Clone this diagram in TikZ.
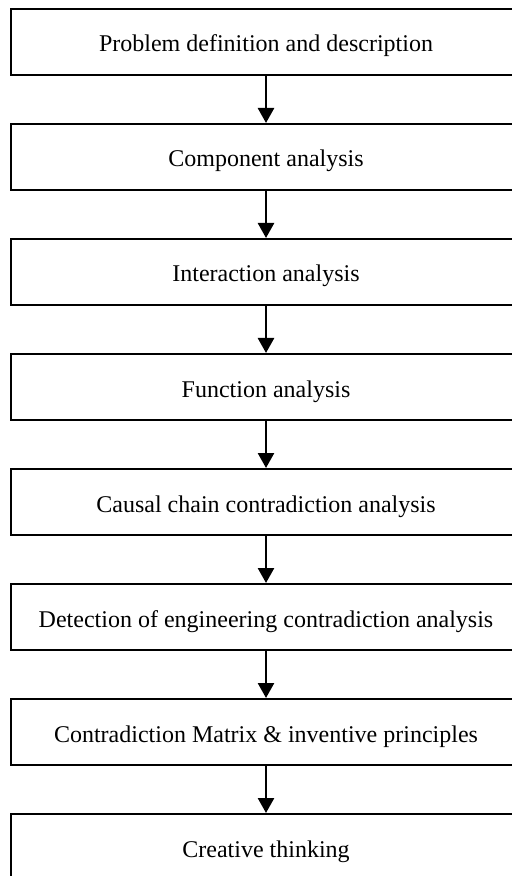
\documentclass[tikz,border=0pt]{standalone}
\usepackage{fontspec}
\setmainfont{Liberation Serif}
\usetikzlibrary{arrows.meta,positioning}
\tikzstyle{stage} = [draw,line width=1pt,minimum width=255pt,minimum height=33pt,inner sep=0pt,text height=10pt,text depth=0pt,font=\fontsize{12}{14}\selectfont]
\tikzset{>={Triangle[length=7.5pt,width=8pt]}}

\begin{document}
\begin{tikzpicture}[node distance=23.5pt]
    \useasboundingbox (0,0) rectangle (256pt,-438pt);

    \node [stage] (def) at (133pt,-21pt) {Problem definition and description};
    \node [stage,below=of def] (comp) {Component analysis};
    \node [stage,below=of comp] (inter) {Interaction analysis};
    \node [stage,below=of inter] (func) {Function analysis};
    \node [stage,below=of func] (causal) {Causal chain contradiction analysis};
    \node [stage,below=of causal] (detect) {Detection of engineering contradiction analysis};
    \node [stage,below=of detect] (matrix) {Contradiction Matrix \& inventive principles};
    \node [stage,below=of matrix] (creat) {Creative thinking};

    \foreach \a/\b in {def/comp,comp/inter,inter/func,func/causal,causal/detect,detect/matrix,matrix/creat}
      \draw [->,line width=1.3pt] (\a) -- (\b);
\end{tikzpicture}
\end{document}
